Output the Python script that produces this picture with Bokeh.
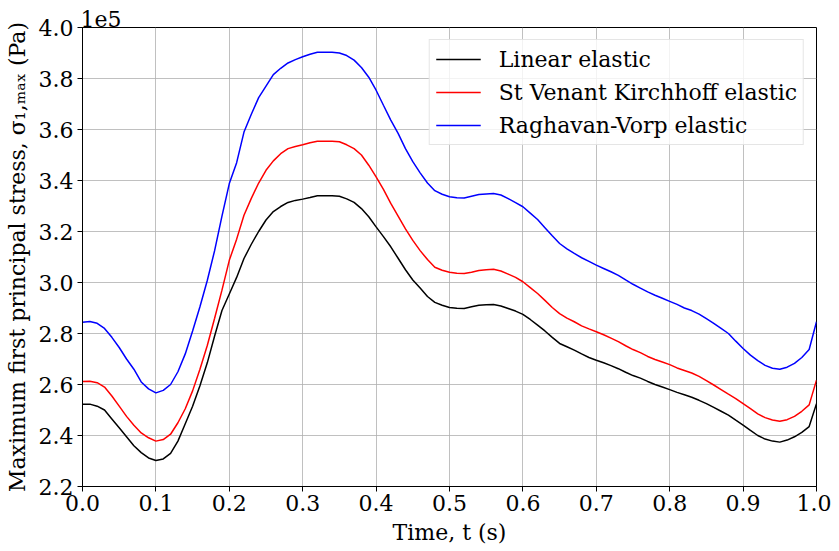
from bokeh.plotting import figure
from bokeh.models import FixedTicker, Range1d, Legend, LegendItem
from bokeh.embed import file_html
from bokeh.resources import INLINE

t = [round(i * 0.01, 2) for i in range(101)]

linear = [2.523, 2.523, 2.515, 2.500, 2.465, 2.430, 2.395, 2.360, 2.333, 2.312,
          2.302, 2.308, 2.330, 2.378, 2.446, 2.515, 2.595, 2.685, 2.790, 2.890,
          2.955, 3.020, 3.094, 3.150, 3.200, 3.245, 3.278, 3.298, 3.314, 3.322,
          3.327, 3.333, 3.340, 3.340, 3.340, 3.338, 3.328, 3.314, 3.290, 3.258,
          3.218, 3.180, 3.140, 3.095, 3.050, 3.010, 2.978, 2.945, 2.922, 2.911,
          2.902, 2.899, 2.898, 2.905, 2.911, 2.913, 2.914, 2.908, 2.898, 2.888,
          2.875, 2.855, 2.833, 2.810, 2.785, 2.761, 2.748, 2.735, 2.720, 2.706,
          2.695, 2.685, 2.674, 2.662, 2.648, 2.635, 2.625, 2.612, 2.600, 2.590,
          2.580, 2.569, 2.560, 2.550, 2.538, 2.525, 2.510, 2.495, 2.480, 2.460,
          2.441, 2.420, 2.400, 2.386, 2.378, 2.374, 2.382, 2.395, 2.412, 2.435,
          2.525]

stvk = [2.612, 2.613, 2.607, 2.590, 2.555, 2.515, 2.475, 2.440, 2.410, 2.391,
        2.378, 2.384, 2.405, 2.450, 2.505, 2.575, 2.660, 2.753, 2.860, 2.970,
        3.087, 3.170, 3.264, 3.330, 3.390, 3.440, 3.477, 3.505, 3.525, 3.533,
        3.540, 3.548, 3.554, 3.554, 3.554, 3.552, 3.540, 3.525, 3.500, 3.460,
        3.414, 3.365, 3.310, 3.260, 3.210, 3.165, 3.125, 3.090, 3.060, 3.048,
        3.040, 3.036, 3.035, 3.040, 3.047, 3.050, 3.052, 3.045, 3.033, 3.020,
        3.003, 2.980, 2.957, 2.930, 2.902, 2.878, 2.860, 2.846, 2.830, 2.818,
        2.807, 2.795, 2.782, 2.768, 2.752, 2.737, 2.725, 2.710, 2.698, 2.688,
        2.678, 2.665, 2.655, 2.645, 2.632, 2.615, 2.598, 2.580, 2.562, 2.545,
        2.525, 2.505, 2.485, 2.470, 2.461, 2.456, 2.462, 2.475, 2.495, 2.520,
        2.617]

rv = [2.844, 2.847, 2.840, 2.820, 2.785, 2.745, 2.700, 2.660, 2.610, 2.583,
      2.567, 2.577, 2.600, 2.650, 2.720, 2.810, 2.905, 3.008, 3.125, 3.260,
      3.388, 3.470, 3.590, 3.660, 3.725, 3.770, 3.815, 3.840, 3.861, 3.874,
      3.885, 3.895, 3.903, 3.903, 3.903, 3.900, 3.890, 3.872, 3.843, 3.805,
      3.754, 3.695, 3.637, 3.585, 3.525, 3.474, 3.430, 3.390, 3.360, 3.346,
      3.336, 3.332, 3.331, 3.338, 3.345, 3.347, 3.349, 3.343, 3.329, 3.313,
      3.297, 3.272, 3.247, 3.215, 3.183, 3.153, 3.132, 3.114, 3.097, 3.083,
      3.068, 3.055, 3.042, 3.028, 3.010, 2.993, 2.978, 2.963, 2.950, 2.938,
      2.926, 2.914, 2.900, 2.890, 2.876, 2.858, 2.840, 2.820, 2.800, 2.770,
      2.741, 2.715, 2.694, 2.675, 2.664, 2.660, 2.668, 2.683, 2.706, 2.737,
      2.846]

series_names = ["Linear elastic", "St Venant Kirchhoff elastic", "Raghavan-Vorp elastic"]
series_colors = ["black", "red", "blue"]

x_ticks = [round(i * 0.1, 1) for i in range(11)]
y_ticks = [round(2.2 + i * 0.2, 1) for i in range(10)]
offset_text = "1e5"

FONT = "DejaVu Serif"
FS = "22px"

p = figure(frame_width=734, frame_height=459, output_backend="svg",
           toolbar_location=None,
           x_range=Range1d(0, 1), y_range=Range1d(2.2, 4.0))
p.min_border_left = 82
p.min_border_right = 15
p.min_border_top = 27
p.min_border_bottom = 57

# offset multiplier shown above the y axis
p.title.text = offset_text
p.title.align = "left"
p.title.text_font = FONT
p.title.text_font_size = FS
p.title.text_font_style = "normal"
p.title.text_color = "black"
p.title.standoff = 1
p.title.offset = -2

renderers = []
for ys, c in zip([linear, stvk, rv], series_colors):
    r = p.line(t, ys, line_color=c, line_width=1.5)
    renderers.append(r)

legend = Legend(items=[LegendItem(label=n, renderers=[r]) for n, r in zip(series_names, renderers)],
                location="top_right")
legend.margin = 12
legend.padding = 6
legend.spacing = 7
legend.glyph_width = 45
legend.glyph_height = 26
legend.label_height = 26
legend.label_standoff = 18
legend.label_text_font = FONT
legend.label_text_font_size = FS
legend.label_text_color = "black"
legend.border_line_color = "#cccccc"
legend.border_line_width = 1
legend.background_fill_alpha = 0.8
p.add_layout(legend)

p.xaxis.ticker = FixedTicker(ticks=x_ticks)
p.yaxis.ticker = FixedTicker(ticks=y_ticks)
p.xaxis.major_label_overrides = {v: f"{v:.1f}" for v in x_ticks}
p.yaxis.major_label_overrides = {v: f"{v:.1f}" for v in y_ticks}

for ax in (p.xaxis, p.yaxis):
    ax.major_label_text_font = FONT
    ax.major_label_text_font_size = FS
    ax.major_label_text_color = "black"
    ax.axis_label_text_font = FONT
    ax.axis_label_text_font_size = FS
    ax.axis_label_text_font_style = "normal"
    ax.axis_label_text_color = "black"
    ax.major_tick_out = 5
    ax.major_tick_in = 0
    ax.minor_tick_out = 0
    ax.minor_tick_in = 0
    ax.axis_line_color = "black"
    ax.major_tick_line_color = "black"

p.xaxis.axis_label = "Time, t (s)"
p.yaxis.axis_label = "Maximum first principal stress, σ₁,ₘₐₓ (Pa)"
p.xaxis.major_label_standoff = 3
p.yaxis.major_label_standoff = 4
p.xaxis.axis_label_standoff = 6
p.yaxis.axis_label_standoff = 6

p.grid.grid_line_color = "#b0b0b0"
p.grid.grid_line_width = 0.8
p.outline_line_color = "black"
p.outline_line_width = 1
p.background_fill_color = "white"
p.border_fill_color = "white"

open("out.html", "w").write(file_html(p, INLINE))
